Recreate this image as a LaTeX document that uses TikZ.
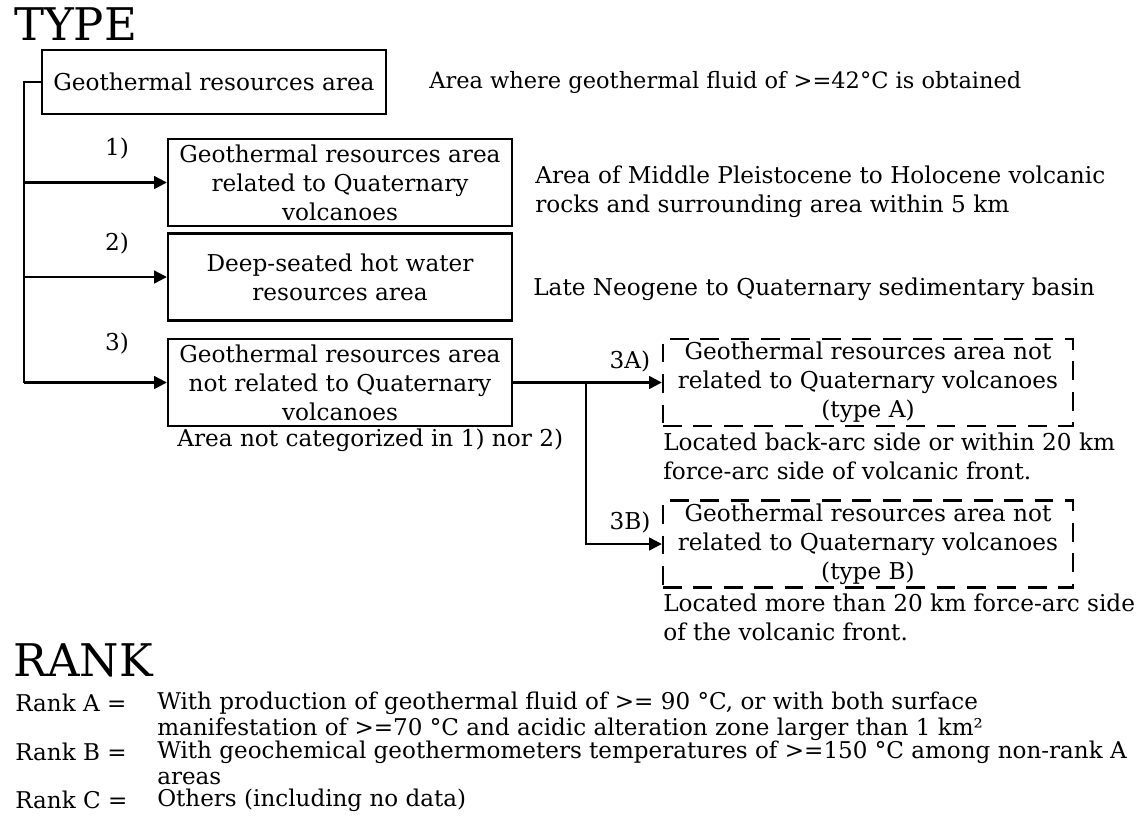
\documentclass[tikz,border=0pt]{standalone}
\usepackage{fontspec}
\setmainfont{DejaVu Serif}
\usepackage{tikz}
\usetikzlibrary{arrows.meta}

\begin{document}
\begin{tikzpicture}[
  x=0.025cm, y=-0.025cm,
  font=\fontsize{16.5}{20.6}\selectfont,
  box/.style={draw, line width=1.6pt, align=center, inner sep=2pt,
              minimum width=8.6cm, minimum height=2.18cm},
  dbox/.style={box, dash pattern=on 0.47cm off 0.29cm, minimum width=10.25cm},
  arr/.style={-{Triangle[length=3.2mm,width=3.2mm]}, line width=1.6pt},
  link/.style={line width=1.6pt},
  head/.style={font=\fontsize{32}{36}\selectfont, inner sep=0pt},
  note/.style={align=left, inner sep=0pt},
  num/.style={inner sep=0pt},
  rank/.style={font=\fontsize{16.4}{18.2}\selectfont, align=left, inner sep=0pt},
]
  \useasboundingbox (0,0) rectangle (1146,822);

  % Headings
  \node[head, anchor=base west] (type) at (14,40) {TYPE};
  \node[head, anchor=base west] (rankhd) at (13,676) {RANK};

  % Boxes
  \node[box, minimum height=1.6cm] (all) at (214,82) {Geothermal resources area};
  \node[box] (g1) at (340,182.5)
    {Geothermal resources area\\related to Quaternary\\volcanoes};
  \node[box] (g2) at (340,277) {Deep-seated hot water\\resources area};
  \node[box] (g3) at (340,382.5)
    {Geothermal resources area\\not related to Quaternary\\volcanoes};
  \node[dbox] (g3a) at (868,382.5)
    {Geothermal resources area not\\related to Quaternary volcanoes\\(type A)};
  \node[dbox] (g3b) at (868,544)
    {Geothermal resources area not\\related to Quaternary volcanoes\\(type B)};

  % Numbers
  \node[num] (n1) at (117,148) {1)};
  \node[num] (n2) at (117,243) {2)};
  \node[num] (n3) at (117,343) {3)};
  \node[num] (n3a) at (630,361) {3A)};
  \node[num] (n3b) at (630,522) {3B)};

  % Descriptions
  \node[note, anchor=west, font=\fontsize{16}{20}\selectfont] (d0) at (429,82)
    {Area where geothermal fluid of >=42°C is obtained};
  \node[note, anchor=west] (d1) at (535,192)
    {Area of Middle Pleistocene to Holocene volcanic\\rocks and surrounding area within 5 km};
  \node[note, anchor=west] (d2) at (533,289)
    {Late Neogene to Quaternary sedimentary basin};
  \node[note, anchor=west] (d3) at (177,440) {Area not categorized in 1) nor 2)};
  \node[note, anchor=west] (d3a) at (663,456)
    {Located back-arc side or within 20 km\\force-arc side of volcanic front.};
  \node[note, anchor=west] (d3b) at (663,617)
    {Located more than 20 km force-arc side\\of the volcanic front.};

  % Connectors
  \coordinate (spine) at (24,82);
  \coordinate (fork) at (586,382.5);
  \draw[link] (all.west) -- (spine) -- (spine |- g3.west);
  \draw[arr] (spine |- g1.west) -- (g1.west);
  \draw[arr] (spine |- g2.west) -- (g2.west);
  \draw[arr] (spine |- g3.west) -- (g3.west);
  \draw[link] (g3.east) -- (fork);
  \draw[arr] (fork) -- (g3a.west);
  \draw[arr] (fork) |- (g3b.west);

  % Ranks
  \node[rank, anchor=west] (ra) at (15,703) {Rank A =};
  \node[rank, anchor=north west] (rad) at (157,692)
    {With production of geothermal fluid of >= 90 °C, or with both surface\\
     manifestation of >=70 °C and acidic alteration zone larger than 1 km²};
  \node[rank, anchor=west] (rb) at (15,752) {Rank B =};
  \node[rank, anchor=north west] (rbd) at (157,741)
    {With geochemical geothermometers temperatures of >=150 °C among non-rank A\\areas};
  \node[rank, anchor=west] (rc) at (15,800) {Rank C =};
  \node[rank, anchor=west] (rcd) at (157,800) {Others (including no data)};
\end{tikzpicture}
\end{document}
